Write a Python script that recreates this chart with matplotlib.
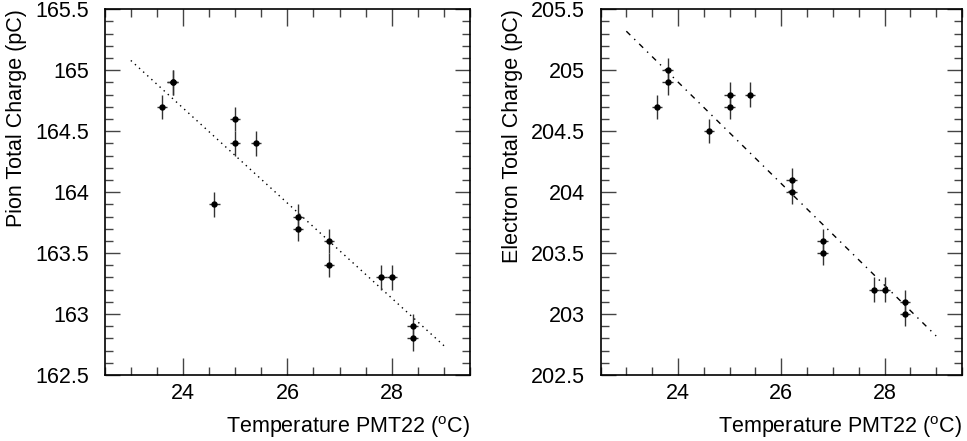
import matplotlib

matplotlib.use("Agg")
import matplotlib.pyplot as plt
from matplotlib.ticker import MultipleLocator

# Temperature of PMT22 for each run (deg C)
temperature = [23.6, 23.8, 23.8, 24.6, 25.0, 25.0, 25.4, 26.2, 26.2, 26.8, 26.8, 27.8, 28.0, 28.4, 28.4]
pion_charge = [164.7, 164.9, 164.9, 163.9, 164.6, 164.4, 164.4, 163.8, 163.7, 163.6, 163.4, 163.3, 163.3, 162.9, 162.8]
electron_charge = [204.7, 205.0, 204.9, 204.5, 204.8, 204.7, 204.8, 204.1, 204.0, 203.6, 203.5, 203.2, 203.2, 203.1, 203.0]
temp_err = 0.1
charge_err = 0.1

# straight-line fits, end points
fit_temp = [23.0, 29.0]
fit_pion = [165.08, 162.74]
fit_electron = [205.32, 202.82]

plt.rcParams["font.family"] = ["Liberation Sans", "DejaVu Sans"]
plt.rcParams["mathtext.fontset"] = "custom"
plt.rcParams["mathtext.rm"] = "Liberation Sans"

FS = 15.5

fig = plt.figure(figsize=(9.67, 4.41), dpi=100)
ax_pion = fig.add_axes([0.1083, 0.1497, 0.3778, 0.8293])
ax_elec = fig.add_axes([0.6210, 0.1497, 0.3738, 0.8293])

panels = [
    (ax_pion, pion_charge, fit_pion, (0, (1, 3)), "Pion Total Charge (pC)", (162.5, 165.5)),
    (ax_elec, electron_charge, fit_electron, (0, (4, 4, 1, 4)), "Electron Total Charge (pC)", (202.5, 205.5)),
]

for ax, charge, fit, style, ylabel, ylim in panels:
    ax.errorbar(temperature, charge, xerr=temp_err, yerr=charge_err, fmt="o",
                color="black", ecolor="#333333", elinewidth=1.0, capsize=0,
                markersize=4.6, markeredgewidth=0, zorder=3)
    ax.plot(fit_temp, fit, color="black", linestyle=style, linewidth=1.0)

    ax.set_xlim(22.5, 29.5)
    ax.set_ylim(*ylim)
    ax.xaxis.set_major_locator(MultipleLocator(2))
    ax.xaxis.set_minor_locator(MultipleLocator(0.5))
    ax.yaxis.set_major_locator(MultipleLocator(0.5))
    ax.yaxis.set_minor_locator(MultipleLocator(0.1))
    ax.yaxis.set_major_formatter(plt.FuncFormatter(lambda v, p: f"{v:g}"))

    ax.tick_params(which="both", direction="in", top=True, right=True,
                   labelsize=FS, width=1.0, color="#444444")
    ax.tick_params(which="major", length=11)
    ax.tick_params(which="minor", length=6)
    ax.tick_params(axis="x", which="major", length=12, pad=6)
    ax.tick_params(axis="y", which="major", pad=11)
    for spine in ax.spines.values():
        spine.set_linewidth(1.2)

    ax.set_xlabel(r"Temperature PMT22 ($^{\mathrm{o}}$C)", fontsize=FS, loc="right", labelpad=7)
    ax.set_ylabel(ylabel, fontsize=FS, loc="top", labelpad=6)

fig.savefig("out.png", dpi=100)
